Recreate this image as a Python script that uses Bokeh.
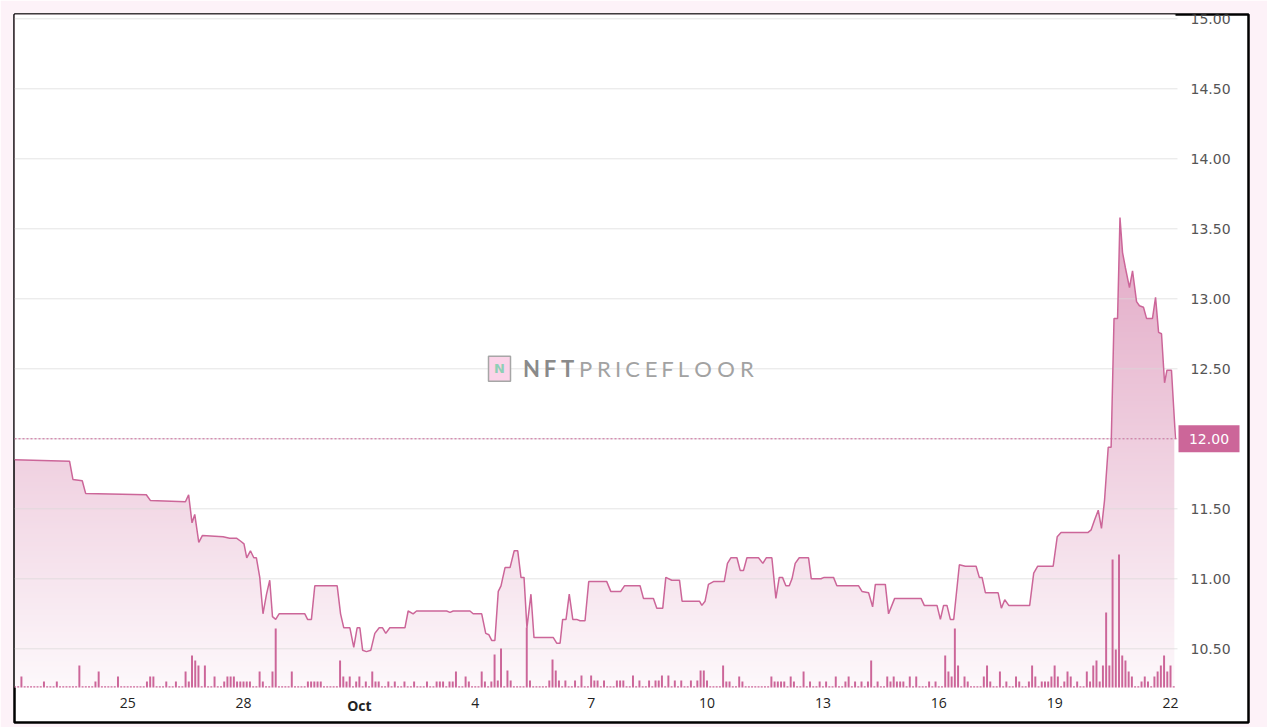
import numpy as np
import pandas as pd
from bokeh.plotting import figure
from bokeh.models import Range1d, FixedTicker, NumeralTickFormatter, ColumnDataSource
from bokeh.embed import file_html
from bokeh.resources import INLINE
from bokeh.core.properties import value

# ---------------- data ----------------
START = pd.Timestamp("2024-09-22 00:00")

price_hours = [1.7, 35.9, 38.0, 43.8, 45.9, 83.6, 86.1, 107.9, 109.9, 112.0, 113.7, 116.2,
               118.5, 131.3, 135.4, 139.6, 142.1, 144.3, 146.0, 148.3, 150.4, 152.0, 154.1,
               156.1, 158.3, 160.3, 162.0, 164.0, 166.1, 182.1, 183.8, 186.2, 188.3, 202.2,
               204.3, 206.3, 210.1, 212.5, 214.6, 216.3, 218.0, 220.4, 223.1, 225.6, 228.3,
               230.4, 232.4, 234.9, 244.3, 246.3, 249.4, 251.5, 270.2, 272.3, 274.3, 284.7,
               286.7, 292.0, 294.5, 296.5, 298.2, 300.2, 302.3, 304.0, 306.5, 309.6, 312.2,
               314.4, 316.4, 318.3, 320.1, 322.6, 324.5, 336.5, 338.6, 340.7, 342.3, 344.4,
               346.4, 348.6, 351.0, 353.1, 356.2, 358.5, 369.7, 372.2, 378.4, 380.7, 390.4,
               392.5, 398.7, 400.8, 404.5, 406.4, 410.1, 414.9, 416.5, 427.3, 428.8, 430.8,
               432.9, 436.0, 442.7, 444.7, 446.8, 450.6, 452.6, 454.7, 456.8, 459.3, 464.0,
               466.7, 468.8, 472.3, 474.8, 476.9, 478.9, 481.0, 483.1, 484.8, 486.8, 489.3,
               495.1, 496.8, 502.8, 504.8, 510.6, 512.7, 526.2, 528.3, 532.4, 534.9, 536.6,
               542.8, 544.8, 548.6, 565.0, 567.0, 574.9, 577.0, 579.0, 581.1, 583.2, 585.3,
               588.8, 592.5, 594.6, 599.2, 601.2, 602.9, 605.0, 612.9, 614.9, 617.0, 619.5,
               632.5, 635.0, 637.5, 647.1, 649.6, 652.0, 668.6, 670.7, 672.8, 675.1, 677.1,
               679.0, 681.3, 683.1, 684.9, 687.1, 688.6, 690.2, 692.0, 694.5, 696.4, 698.9,
               700.7, 703.2, 705.1, 708.8, 710.7, 712.6, 714.4, 716.3, 717.8, 720.6, 723.1]
price_values = [11.85, 11.84, 11.71, 11.70, 11.61, 11.60, 11.56, 11.55, 11.60, 11.40, 11.46, 11.26,
                11.31, 11.30, 11.29, 11.29, 11.27, 11.25, 11.15, 11.20, 11.15, 11.15, 11.01,
                10.75, 10.89, 10.99, 10.73, 10.71, 10.75, 10.75, 10.71, 10.71, 10.95, 10.95,
                10.75, 10.65, 10.65, 10.51, 10.65, 10.65, 10.49, 10.48, 10.49, 10.61, 10.65,
                10.65, 10.61, 10.65, 10.65, 10.77, 10.75, 10.77, 10.77, 10.76, 10.77, 10.77,
                10.75, 10.75, 10.61, 10.60, 10.56, 10.56, 10.91, 10.95, 11.08, 11.08, 11.20,
                11.20, 11.01, 11.01, 10.65, 10.89, 10.58, 10.58, 10.54, 10.54, 10.71, 10.71,
                10.89, 10.71, 10.71, 10.70, 10.70, 10.98, 10.98, 10.91, 10.91, 10.95, 10.95,
                10.86, 10.86, 10.79, 10.79, 11.01, 10.99, 10.99, 10.84, 10.84, 10.81, 10.84,
                10.96, 10.98, 10.98, 11.11, 11.15, 11.15, 11.06, 11.06, 11.15, 11.15, 11.15,
                11.11, 11.15, 11.15, 10.86, 11.01, 11.01, 10.95, 10.95, 11.00, 11.11, 11.15,
                11.15, 11.00, 11.00, 11.01, 11.01, 10.95, 10.95, 10.91, 10.90, 10.80, 10.96,
                10.96, 10.75, 10.86, 10.86, 10.81, 10.81, 10.71, 10.81, 10.81, 10.71, 10.71,
                11.10, 11.09, 11.09, 11.09, 11.01, 11.01, 10.90, 10.90, 10.79, 10.85, 10.81,
                10.81, 11.04, 11.09, 11.09, 11.30, 11.33, 11.33, 11.35, 11.42, 11.49, 11.36,
                11.56, 11.94, 11.94, 12.86, 12.86, 13.58, 13.33, 13.22, 13.08, 13.20, 12.98,
                12.95, 12.94, 12.86, 12.86, 13.01, 12.76, 12.75, 12.40, 12.49, 12.49, 12.00]

# volume per 2-hour bin (bin index counted from START), unlisted bins ~ 0
vol_bin = [3, 10, 14, 21, 26, 27, 33, 42, 43, 44, 48, 51, 54, 55, 56, 57, 58, 60, 63, 66, 67, 68,
           69, 70, 71, 72, 73, 74, 77, 78, 81, 82, 87, 92, 93, 94, 95, 96, 102, 103, 104, 105,
           107, 108, 110, 112, 113, 114, 117, 119, 122, 125, 129, 132, 133, 134, 136, 137, 138,
           141, 142, 146, 147, 149, 150, 151, 152, 154, 155, 160, 161, 167, 168, 169, 170, 172,
           175, 177, 180, 181, 182, 184, 188, 189, 190, 193, 195, 198, 200, 201, 202, 204, 206,
           208, 211, 213, 214, 215, 216, 221, 222, 223, 226, 227, 236, 237, 238, 239, 240, 242,
           243, 246, 248, 251, 253, 256, 259, 260, 262, 264, 266, 267, 269, 272, 273, 274, 275,
           276, 277, 279, 281, 285, 287, 290, 291, 292, 293, 294, 296, 297, 302, 303, 304, 307,
           309, 312, 313, 316, 317, 318, 320, 321, 322, 323, 324, 325, 327, 328, 329, 331, 334,
           335, 336, 337, 338, 339, 340, 341, 342, 343, 344, 345, 346, 347, 348, 351, 352, 353,
           355, 356, 357, 358, 359, 360]
vol_value = [1.1, 0.6, 0.6, 2.2, 0.6, 1.6, 1.1, 0.6, 1.1, 1.1, 0.6, 0.6, 1.6, 0.6, 3.2, 2.7, 2.2,
             2.2, 1.1, 0.6, 1.1, 1.1, 1.1, 0.6, 0.6, 0.6, 0.6, 0.6, 1.6, 0.6, 1.6, 5.9, 1.6, 0.6,
             0.6, 0.6, 0.6, 0.6, 2.7, 1.1, 0.6, 1.1, 0.6, 1.1, 0.6, 1.6, 0.6, 0.6, 0.6, 0.6, 0.6,
             0.6, 0.6, 0.6, 0.6, 0.6, 0.6, 0.6, 1.6, 1.1, 0.6, 1.6, 0.6, 0.6, 3.3, 0.7, 3.9, 1.7,
             0.7, 6.0, 0.7, 0.7, 2.8, 1.7, 0.7, 0.7, 0.7, 1.2, 1.2, 0.7, 0.7, 0.7, 0.7, 0.7, 0.7,
             1.2, 0.7, 0.7, 0.7, 0.7, 1.2, 1.2, 0.7, 0.7, 0.7, 0.7, 1.7, 1.7, 0.7, 2.2, 0.6, 0.6,
             1.1, 0.6, 1.1, 0.6, 0.6, 0.6, 0.6, 1.1, 0.6, 1.6, 0.6, 0.6, 0.6, 1.1, 0.6, 1.1, 0.6,
             0.6, 0.6, 2.7, 0.6, 1.1, 0.6, 1.1, 0.6, 0.6, 0.6, 1.1, 1.1, 0.6, 0.6, 3.2, 1.6, 1.1,
             5.9, 2.2, 1.1, 0.6, 1.1, 2.2, 0.6, 1.6, 0.6, 1.1, 0.6, 0.6, 2.2, 1.1, 0.6, 0.6, 0.6,
             1.1, 2.2, 1.1, 0.6, 1.6, 1.1, 0.6, 1.6, 0.6, 2.2, 2.7, 0.6, 2.2, 7.5, 2.2, 12.8, 3.8,
             13.3, 3.2, 2.7, 1.6, 1.1, 0.6, 1.1, 0.6, 1.1, 1.6, 2.2, 3.2, 1.6, 2.2]
n_bins = 361

tick_dates = ["2024-09-25", "2024-09-28", "2024-10-01", "2024-10-04", "2024-10-07",
              "2024-10-10", "2024-10-13", "2024-10-16", "2024-10-19", "2024-10-22"]
tick_labels = ["25", "28", "Oct", "4", "7", "10", "13", "16", "19", "22"]
y_ticks = [10.5, 11.0, 11.5, 12.0, 12.5, 13.0, 13.5, 14.0, 14.5, 15.0]
last_price = 12.00

# ---------------- styling / layout constants ----------------
PINK = "#cc6699"
PAGE_BG = "#fdf2f8"
FIG_W, FIG_H = 1267, 727
B_LEFT, B_TOP = 14, 14
FRAME_W, FRAME_H = 1234, 708
B_RIGHT = FIG_W - B_LEFT - FRAME_W
B_BOTTOM = FIG_H - B_TOP - FRAME_H
DATA_W = 1161            # px width of the data area (left part of the frame)
PX_PER_UNIT = 140.0      # px per 1.00 of price
BASE_FROM_TOP = 673      # px from frame top to the price baseline (where bars stand)
Y_TOP = 15.0307
Y_BASE = Y_TOP - BASE_FROM_TOP / PX_PER_UNIT
Y_BOTTOM = Y_TOP - FRAME_H / PX_PER_UNIT
BASE_PX = FRAME_H - BASE_FROM_TOP

t = START + pd.to_timedelta(price_hours, unit="h")
t_start, t_end = t[0], t[-1]
ms = lambda ts: ts.value / 1e6
span_h = (t_end - t_start) / pd.Timedelta(hours=1)
ms_per_px = (ms(t_end) - ms(t_start)) / DATA_W

def px_to_t(xpx):
    # screen px (from frame left) -> datetime
    return t_start + pd.Timedelta(hours=xpx / DATA_W * span_h)

x_right = px_to_t(FRAME_W)

p = figure(width=FIG_W, height=FIG_H, output_backend="svg", toolbar_location=None,
           x_axis_type="datetime", y_axis_location="right",
           x_range=Range1d(t_start, x_right), y_range=Range1d(Y_BOTTOM, Y_TOP),
           min_border_left=B_LEFT, min_border_top=B_TOP, min_border_right=B_RIGHT,
           min_border_bottom=B_BOTTOM,
           background_fill_color="white", border_fill_color=PAGE_BG,
           outline_line_color="black", outline_line_width=2.5)
p.extra_y_ranges = {"vol": Range1d(-BASE_PX / 10.0, BASE_FROM_TOP / 10.0)}
p.xgrid.visible = False
p.ygrid.visible = False

# gradient fill below the price line: one vertical gradient image + white mask above line
n_rows = 700
ys = np.linspace(Y_BASE, Y_TOP, n_rows)
frac = np.clip((ys - Y_BASE) / (13.65 - Y_BASE), 0, 1)
top_rgb = np.array([225, 165, 195])
bot_rgb = np.array([253, 248, 251])
rgb = (bot_rgb[None, :] + frac[:, None] * (top_rgb - bot_rgb)[None, :]).round().astype(np.uint8)
img = np.zeros((n_rows, 1), dtype=np.uint32)
view = img.view(dtype=np.uint8).reshape((n_rows, 1, 4))
view[:, 0, 0] = rgb[:, 0]
view[:, 0, 1] = rgb[:, 1]
view[:, 0, 2] = rgb[:, 2]
view[:, 0, 3] = 255
p.image_rgba(image=[img], x=[t_start], y=[Y_BASE],
             dw=[ms(t_end) - ms(t_start) - 1.2 * ms_per_px], dh=[Y_TOP - Y_BASE])

src = ColumnDataSource(dict(t=t, price=price_values, top=[Y_TOP + 0.5] * len(price_values)))
p.varea(x="t", y1="price", y2="top", source=src, fill_color="white")

# grid lines across the data area only
p.segment(x0=[t_start] * len(y_ticks), x1=[px_to_t(DATA_W + 2)] * len(y_ticks),
          y0=y_ticks, y1=y_ticks, line_color="#d9d9d9", line_alpha=0.7, line_width=1)

# watermark
p.rect(x=[px_to_t(485)], y=[12.5], width=22, height=25, width_units="screen",
       height_units="screen", fill_color="#fbd3e8", line_color="#a6a6a6", line_width=1.5)
p.text(x=[px_to_t(485)], y=[12.5], text=["N"], text_align="center", text_baseline="middle",
       text_font=value("DejaVu Sans"), text_font_size="13px", text_font_style="bold",
       text_color="#8fcfb5")
letters = list("NFTPRICEFLOOR")
centers = [517, 535.5, 553, 571, 589.5, 603.5, 618, 636.5, 653, 669, 688.5, 711.5, 732.5]
p.text(x=[px_to_t(c) for c in centers[:3]], y=[12.5] * 3, text=letters[:3],
       text_align="center", text_baseline="middle", text_font=value("Lato"),
       text_font_size="22px", text_font_style="bold", text_color="#8a8a8a")
p.text(x=[px_to_t(c) for c in centers[3:]], y=[12.5] * 10, text=letters[3:],
       text_align="center", text_baseline="middle", text_font=value("Lato"),
       text_font_size="22px", text_color="#a2a2a2")

# volume bars
vol_map = dict(zip(vol_bin, vol_value))
bins = list(range(1, n_bins + 1))
vol_t = [START + pd.Timedelta(hours=2 * b) for b in bins]
vol_top = [max(vol_map.get(b, 0.0), 0.12) for b in bins]
p.vbar(x=vol_t, top=vol_top, bottom=0, width=4.4e6, y_range_name="vol",
       fill_color=PINK, line_color=None)

# price line
p.line(x="t", y="price", source=src, line_color=PINK, line_width=1.5)

# last price dotted line + marker box
p.segment(x0=[t_start], x1=[px_to_t(DATA_W + 3)], y0=[last_price], y1=[last_price],
          line_color=PINK, line_dash="2 2", line_width=1)
box_x = px_to_t(DATA_W + 33.5)
p.rect(x=[box_x], y=[last_price], width=61, height=27, width_units="screen",
       height_units="screen", fill_color=PINK, line_color=None)
p.text(x=[box_x], y=[last_price], text=["%.2f" % last_price], text_align="center",
       text_baseline="middle", text_font=value("DejaVu Sans"), text_font_size="14px",
       text_color="white")

# axes (pinned to the edge of the data area)
yax = p.yaxis[0]
yax.fixed_location = ms(t_end)
yax.ticker = FixedTicker(ticks=[v for v in y_ticks if v != last_price])
yax.formatter = NumeralTickFormatter(format="0.00")
yax.axis_line_color = None
yax.major_tick_line_color = None
yax.minor_tick_line_color = None
yax.major_tick_out = 0
yax.major_tick_in = 0
yax.major_label_standoff = 15
yax.major_label_text_font = "DejaVu Sans"
yax.major_label_text_font_size = "14px"
yax.major_label_text_color = "#555555"

tick_ms = [int(ms(pd.Timestamp(d))) for d in tick_dates]
xax = p.xaxis[0]
xax.fixed_location = Y_BASE
xax.ticker = FixedTicker(ticks=tick_ms)
xax.major_label_overrides = {k: ("" if lab == "Oct" else lab)
                             for k, lab in zip(tick_ms, tick_labels)}
xax.axis_line_color = None
xax.major_tick_line_color = None
xax.minor_tick_line_color = None
xax.major_tick_out = 0
xax.major_tick_in = 0
xax.major_label_standoff = 10
xax.major_label_text_font = "Open Sans"
xax.major_label_text_font_size = "14px"
xax.major_label_text_color = "#222222"

bold_t = [pd.Timestamp(d) for d, lab in zip(tick_dates, tick_labels) if lab == "Oct"]
p.text(x=bold_t, y=[Y_BASE - 18 / PX_PER_UNIT] * len(bold_t), text=["Oct"] * len(bold_t),
       text_align="center", text_baseline="middle", text_font=value("Open Sans"),
       text_font_size="14px", text_font_style="bold", text_color="#222222")

open("out.html", "w").write(file_html(p, INLINE))
